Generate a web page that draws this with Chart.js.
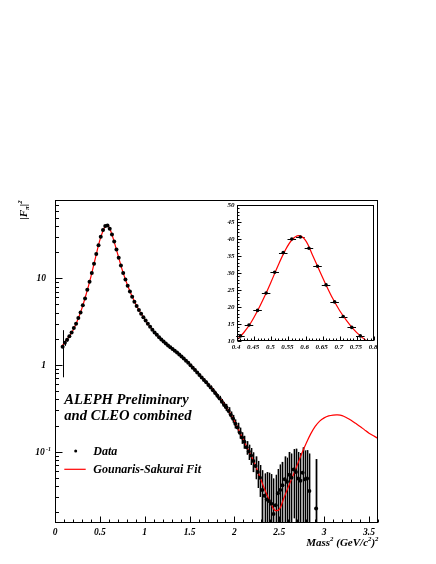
<!DOCTYPE html>
<html lang="en">
<head>
    <meta charset="UTF-8">
    <title>Pion form factor - ALEPH / CLEO</title>

    <!-- Chart.js -->
    <script src="https://cdn.jsdelivr.net/npm/chart.js"></script>

    <style>
        html, body { margin: 0; padding: 0; background: #fff; }
        #wrap { position: relative; width: 436px; height: 564px; }
        #mainChart { position: absolute; left: 0; top: 0; }
        #insetChart { position: absolute; left: 215px; top: 198px; }
    </style>
</head>
<body>
<div id="wrap">
    <canvas id="mainChart" width="436" height="564"></canvas>
    <canvas id="insetChart" width="165" height="160"></canvas>
</div>

<script>
// ---- main plot : |F_pi|^2 vs mass^2 ----
var dataS = [
    0.085, 0.11, 0.135, 0.16, 0.185, 0.21, 0.235, 0.26, 0.285, 0.31,
    0.335, 0.36, 0.385, 0.41, 0.435, 0.46, 0.485, 0.51, 0.535, 0.56,
    0.585, 0.61, 0.635, 0.66, 0.685, 0.71, 0.735, 0.76, 0.785, 0.81,
    0.835, 0.86, 0.885, 0.91, 0.935, 0.96, 0.985, 1.01, 1.035, 1.06,
    1.085, 1.11, 1.135, 1.16, 1.185, 1.21, 1.235, 1.26, 1.285, 1.31,
    1.335, 1.36, 1.385, 1.41, 1.435, 1.46, 1.485, 1.51, 1.535, 1.56,
    1.585, 1.61, 1.635, 1.66, 1.685, 1.71, 1.735, 1.76, 1.785, 1.81,
    1.835, 1.86, 1.885, 1.91, 1.935, 1.96, 1.985, 2.01, 2.035, 2.06,
    2.085, 2.11, 2.135, 2.16, 2.185, 2.21, 2.235, 2.26, 2.285, 2.31,
    2.335, 2.36, 2.385, 2.41, 2.435, 2.46, 2.485, 2.51, 2.535, 2.56,
    2.585, 2.61, 2.635, 2.66, 2.685, 2.71, 2.735, 2.76, 2.785, 2.81,
    2.835, 2.91
];
var dataF = [
    1.62, 1.80, 1.95, 2.14, 2.36, 2.66, 2.98, 3.47, 4.02, 4.88,
    5.85, 7.35, 9.1, 11.5, 14.7, 19.0, 24.1, 30.2, 36.0, 40.0,
    40.6, 37.3, 32.0, 26.5, 21.5, 17.2, 14.0, 11.5, 9.65, 8.2,
    7.05, 6.1, 5.35, 4.8, 4.3, 3.9, 3.55, 3.25, 2.98, 2.76,
    2.55, 2.37, 2.23, 2.09, 1.97, 1.86, 1.77, 1.68, 1.60, 1.53,
    1.46, 1.39, 1.32, 1.25, 1.19, 1.12, 1.06, 0.99, 0.93, 0.875,
    0.82, 0.765, 0.715, 0.67, 0.63, 0.585, 0.55, 0.51, 0.475, 0.44,
    0.41, 0.375, 0.345, 0.325, 0.295, 0.265, 0.24, 0.21, 0.19, 0.165,
    0.145, 0.13, 0.112, 0.10, 0.09, 0.078, 0.068, 0.058, 0.05, 0.036,
    0.031, 0.028, 0.027, 0.025, 0.019, 0.024, 0.033, 0.036, 0.041, 0.048,
    0.045, 0.054, 0.05, 0.062, 0.058, 0.049, 0.046, 0.057, 0.048, 0.049,
    0.035, 0.022
];
var dataErr = [
    0.9, 0.14, 0.09, 0.07, 0.06, 0.06, 0.06, 0.07, 0.08, 0.09,
    0.1, 0.12, 0.15, 0.2, 0.25, 0.3, 0.35, 0.4, 0.45, 0.45,
    0.45, 0.45, 0.4, 0.35, 0.3, 0.25, 0.2, 0.17, 0.14, 0.12,
    0.1, 0.09, 0.08, 0.07, 0.07, 0.06, 0.06, 0.05, 0.05, 0.05,
    0.05, 0.04, 0.04, 0.04, 0.04, 0.04, 0.04, 0.04, 0.04, 0.04,
    0.04, 0.04, 0.04, 0.035, 0.035, 0.035, 0.035, 0.03, 0.03, 0.03,
    0.03, 0.03, 0.03, 0.03, 0.03, 0.03, 0.03, 0.03, 0.03, 0.03,
    0.03, 0.03, 0.03, 0.03, 0.03, 0.025, 0.025, 0.025, 0.025, 0.024,
    0.022, 0.022, 0.02, 0.02, 0.02, 0.02, 0.02, 0.02, 0.02, 0.025,
    0.025, 0.03, 0.03, 0.03, 0.03, 0.03, 0.03, 0.035, 0.035, 0.04,
    0.04, 0.045, 0.045, 0.045, 0.05, 0.05, 0.05, 0.055, 0.055, 0.055,
    0.06, 0.06
];
var greyFrom = 1.9;   // error bars drawn with grey band beyond this mass^2

// Gounaris-Sakurai fit curve
var fitS = [
    0.085, 0.1, 0.15, 0.2, 0.25, 0.3, 0.35, 0.4, 0.45, 0.5,
    0.55, 0.575, 0.6, 0.625, 0.65, 0.7, 0.75, 0.8, 0.85, 0.9,
    0.95, 1.0, 1.05, 1.1, 1.15, 1.2, 1.25, 1.3, 1.35, 1.4,
    1.45, 1.5, 1.55, 1.6, 1.65, 1.7, 1.75, 1.8, 1.85, 1.9,
    1.95, 2.0, 2.05, 2.1, 2.15, 2.2, 2.25, 2.3, 2.35, 2.4,
    2.45, 2.5, 2.55, 2.6, 2.65, 2.7, 2.75, 2.8, 2.85, 2.9,
    2.95, 3.0, 3.05, 3.1, 3.15, 3.2, 3.25, 3.3, 3.35, 3.4,
    3.45, 3.5, 3.55, 3.6
];
var fitF = [
    1.70, 1.76, 2.08, 2.50, 3.25, 4.5, 6.7, 10.4, 17.1, 27.6,
    38.3, 40.9, 39.6, 34.2, 28.5, 18.8, 12.4, 8.75, 6.5, 5.05,
    4.05, 3.38, 2.85, 2.45, 2.14, 1.9, 1.71, 1.56, 1.42, 1.29,
    1.16, 1.03, 0.91, 0.79, 0.70, 0.615, 0.54, 0.465, 0.40, 0.34,
    0.28, 0.225, 0.175, 0.137, 0.107, 0.083, 0.063, 0.046, 0.034, 0.026,
    0.021, 0.0215, 0.029, 0.039, 0.052, 0.070, 0.095, 0.125, 0.16, 0.195,
    0.225, 0.245, 0.258, 0.264, 0.265, 0.26, 0.246, 0.23, 0.212, 0.195,
    0.178, 0.163, 0.152, 0.142
];

var xTickVals = [0, 0.5, 1, 1.5, 2, 2.5, 3, 3.5];
var xTickLabels = ['0', '0.5', '1', '1.5', '2', '2.5', '3', '3.5'];
var yTickVals = [0.1, 1, 10];
var yTickLabels = [['10', '-1'], ['1', ''], ['10', '']];

// ---- inset : peak region, linear scale ----
var insetS = [0.41, 0.435, 0.46, 0.485, 0.51, 0.535, 0.56, 0.585, 0.61, 0.635, 0.66, 0.685, 0.71, 0.735, 0.76];
var insetF = [11.5, 14.7, 19.0, 24.1, 30.2, 36.0, 40.0, 40.6, 37.3, 32.0, 26.5, 21.5, 17.2, 14.0, 11.5];
var insetHalfBin = 0.0125;
var insetFitS = [0.40, 0.42, 0.44, 0.46, 0.48, 0.50, 0.52, 0.54, 0.56, 0.58, 0.60, 0.62, 0.64, 0.66, 0.68, 0.70, 0.72, 0.74, 0.76, 0.78, 0.80];
var insetFitF = [10.3, 12.5, 15.3, 18.9, 23.0, 27.5, 32.2, 36.5, 39.7, 41.0, 39.6, 35.4, 30.9, 26.5, 22.4, 18.9, 16.0, 13.5, 11.5, 9.9, 8.6];
var insetXTicks = ['0.4', '0.45', '0.5', '0.55', '0.6', '0.65', '0.7', '0.75', '0.8'];
var insetYTicks = ['10', '15', '20', '25', '30', '35', '40', '45', '50'];

var SERIF = '"Liberation Serif", "Times New Roman", serif';

function font(size) {
    return 'italic bold ' + size + 'px ' + SERIF;
}

// text with superscript (1) / subscript (-1) pieces
function richText(ctx, parts, x, y, size, align) {
    var small = size * 0.62;
    var w = 0;
    parts.forEach(function (p) {
        ctx.font = font(p[1] ? small : size);
        w += ctx.measureText(p[0]).width;
    });
    var cx = align === 'right' ? x - w : (align === 'center' ? x - w / 2 : x);
    ctx.textAlign = 'left';
    ctx.textBaseline = 'alphabetic';
    parts.forEach(function (p) {
        ctx.font = font(p[1] ? small : size);
        var dy = p[1] === 1 ? -size * 0.42 : (p[1] === -1 ? size * 0.22 : 0);
        ctx.fillText(p[0], cx, y + dy);
        cx += ctx.measureText(p[0]).width;
    });
}

function line(ctx, x1, y1, x2, y2) {
    ctx.beginPath();
    ctx.moveTo(x1, y1);
    ctx.lineTo(x2, y2);
    ctx.stroke();
}

var mainDeco = {
    id: 'mainDeco',
    beforeDatasetsDraw: function (chart) {
        var ctx = chart.ctx, xs = chart.scales.x, ys = chart.scales.y, a = chart.chartArea;
        ctx.save();
        ctx.beginPath();
        ctx.rect(a.left, a.top, a.right - a.left, a.bottom - a.top);
        ctx.clip();
        for (var i = 0; i < dataS.length; i++) {
            var px = Math.round(xs.getPixelForValue(dataS[i])) + 0.5;
            var lo = dataF[i] - dataErr[i];
            var top = ys.getPixelForValue(dataF[i] + dataErr[i]);
            var bot = lo > 0 ? ys.getPixelForValue(lo) : a.bottom + 5;
            if (dataS[i] >= greyFrom) {
                ctx.strokeStyle = '#a0a0a0';
                ctx.lineWidth = 3;
                line(ctx, px, top, px, bot);
            }
            ctx.strokeStyle = '#000';
            ctx.lineWidth = 1;
            line(ctx, px, top, px, bot);
        }
        ctx.restore();
    },
    afterDraw: function (chart) {
        var ctx = chart.ctx, xs = chart.scales.x, ys = chart.scales.y, a = chart.chartArea;
        var L = a.left + 0.5, R = a.right - 0.5, T = a.top + 0.5, B = a.bottom - 0.5;
        ctx.save();
        ctx.strokeStyle = '#000';
        ctx.fillStyle = '#000';
        ctx.lineWidth = 1;
        ctx.strokeRect(L, T, R - L, B - T);

        // x ticks, inward
        for (var i = 0; i <= 36; i++) {
            var px = Math.round(xs.getPixelForValue(i / 10)) + 0.5;
            line(ctx, px, B, px, B - (i % 5 === 0 ? 6 : 3));
        }
        // y ticks (log), inward
        for (var d = -2; d <= 1; d++) {
            for (var m = 1; m <= 9; m++) {
                var v = m * Math.pow(10, d);
                if (v < ys.min || v > ys.max) continue;
                var py = Math.round(ys.getPixelForValue(v)) + 0.5;
                line(ctx, L, py, L + (m === 1 ? 7 : 3.5), py);
            }
        }
        // tick labels
        xTickVals.forEach(function (v, k) {
            richText(ctx, [[xTickLabels[k], 0]], xs.getPixelForValue(v), 534.5, 9.5, 'center');
        });
        yTickVals.forEach(function (v, k) {
            var py = ys.getPixelForValue(v) + 3.2;
            var lab = yTickLabels[k];
            if (lab[1]) {
                richText(ctx, [[lab[0], 0], [' ' + lab[1], 1]], 51, py, 9.5, 'right');
            } else {
                richText(ctx, [[lab[0], 0]], 46, py, 9.5, 'right');
            }
        });

        // axis titles
        richText(ctx, [['Mass', 0], ['2', 1], [' (GeV/c', 0], ['2', 1], [')', 0], ['2', 1]], 378.5, 545.7, 11, 'right');
        ctx.save();
        ctx.translate(26.5, 210);
        ctx.rotate(-Math.PI / 2);
        richText(ctx, [['|F', 0], ['\u03c0', -1], ['|', 0], ['2', 1]], 0, 0, 11, 'center');
        ctx.restore();

        // experiment label
        richText(ctx, [['ALEPH Preliminary', 0]], 64.3, 404, 14.6, 'left');
        richText(ctx, [['and CLEO combined', 0]], 64.3, 420.3, 14.6, 'left');

        // legend
        ctx.beginPath();
        ctx.arc(75.7, 451, 1.5, 0, Math.PI * 2);
        ctx.fill();
        richText(ctx, [['Data', 0]], 93.3, 455.3, 12, 'left');
        ctx.strokeStyle = '#ff0000';
        ctx.lineWidth = 1.2;
        line(ctx, 64.3, 469.3, 85.7, 469.3);
        richText(ctx, [['Gounaris-Sakurai Fit', 0]], 93.3, 473.3, 12, 'left');
        ctx.restore();
    }
};

new Chart(document.getElementById('mainChart'), {
    type: 'scatter',
    data: {
        datasets: [{
            label: 'Data',
            data: dataS.map(function (s, i) { return { x: s, y: dataF[i] }; }),
            pointRadius: 2,
            pointBackgroundColor: '#000',
            pointBorderColor: '#000',
            pointBorderWidth: 0,
            showLine: false
        }, {
            label: 'Gounaris-Sakurai Fit',
            type: 'line',
            data: fitS.map(function (s, i) { return { x: s, y: fitF[i] }; }),
            borderColor: '#ff0000',
            borderWidth: 1.2,
            pointRadius: 0,
            tension: 0.35,
            fill: false
        }]
    },
    options: {
        responsive: false,
        animation: false,
        events: [],
        layout: { padding: { left: 55, top: 200, right: 58, bottom: 41 } },
        scales: {
            x: { type: 'linear', min: 0, max: 3.6, display: false },
            y: { type: 'logarithmic', min: 0.015, max: 80, display: false }
        },
        plugins: { legend: { display: false }, tooltip: { enabled: false } }
    },
    plugins: [mainDeco]
});

var insetDeco = {
    id: 'insetDeco',
    beforeDatasetsDraw: function (chart) {
        var ctx = chart.ctx, xs = chart.scales.x, ys = chart.scales.y;
        ctx.save();
        ctx.strokeStyle = '#000';
        ctx.lineWidth = 1;
        for (var i = 0; i < insetS.length; i++) {
            var py = Math.round(ys.getPixelForValue(insetF[i])) + 0.5;
            line(ctx, xs.getPixelForValue(insetS[i] - insetHalfBin), py, xs.getPixelForValue(insetS[i] + insetHalfBin), py);
        }
        ctx.restore();
    },
    afterDraw: function (chart) {
        var ctx = chart.ctx, xs = chart.scales.x, ys = chart.scales.y, a = chart.chartArea;
        var L = a.left + 0.5, R = a.right - 0.5, T = a.top + 0.5, B = a.bottom - 0.5;
        ctx.save();
        ctx.strokeStyle = '#000';
        ctx.fillStyle = '#000';
        ctx.lineWidth = 1;
        ctx.strokeRect(L, T, R - L, B - T);
        for (var i = 0; i <= 40; i++) {
            var px = Math.round(xs.getPixelForValue(0.4 + i / 100)) + 0.5;
            line(ctx, px, B, px, B - (i % 5 === 0 ? 4 : 2));
        }
        for (var j = 0; j <= 40; j++) {
            var py = Math.round(ys.getPixelForValue(10 + j)) + 0.5;
            line(ctx, L, py, L + (j % 5 === 0 ? 4 : 2), py);
        }
        insetXTicks.forEach(function (t) {
            richText(ctx, [[t, 0]], xs.getPixelForValue(parseFloat(t)) - 1, a.bottom + 8, 7, 'center');
        });
        insetYTicks.forEach(function (t) {
            richText(ctx, [[t, 0]], a.left - 2.5, ys.getPixelForValue(parseFloat(t)) + 2.4, 7, 'right');
        });
        ctx.restore();
    }
};

new Chart(document.getElementById('insetChart'), {
    type: 'scatter',
    data: {
        datasets: [{
            label: 'Data',
            data: insetS.map(function (s, i) { return { x: s, y: insetF[i] }; }),
            pointRadius: 1.8,
            pointBackgroundColor: '#000',
            pointBorderColor: '#000',
            pointBorderWidth: 0,
            showLine: false
        }, {
            label: 'Fit',
            type: 'line',
            data: insetFitS.map(function (s, i) { return { x: s, y: insetFitF[i] }; }),
            borderColor: '#ff0000',
            borderWidth: 1.2,
            pointRadius: 0,
            tension: 0.35,
            fill: false
        }]
    },
    options: {
        responsive: false,
        animation: false,
        events: [],
        layout: { padding: { left: 22, top: 7, right: 6, bottom: 17 } },
        scales: {
            x: { type: 'linear', min: 0.4, max: 0.8, display: false },
            y: { type: 'linear', min: 10, max: 50, display: false }
        },
        plugins: { legend: { display: false }, tooltip: { enabled: false } }
    },
    plugins: [insetDeco]
});
</script>
</body>
</html>
